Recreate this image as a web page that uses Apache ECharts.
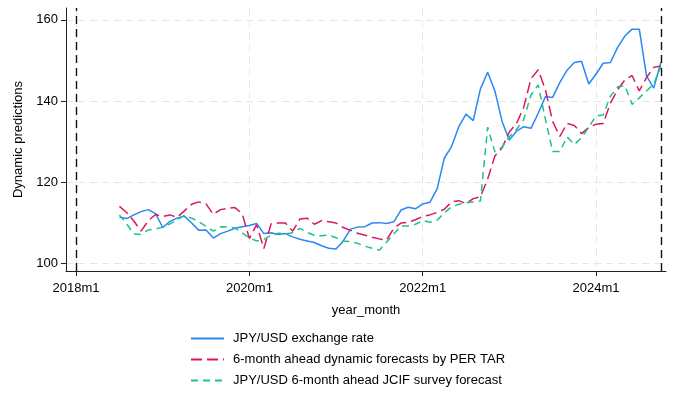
<!DOCTYPE html>
<html>
<head>
<meta charset="utf-8">
<script src="https://cdn.jsdelivr.net/npm/echarts@6/dist/echarts.min.js"></script>
<style>
html,body{margin:0;padding:0;background:#fff;}
#chart{width:680px;height:397px;}
</style>
</head>
<body>
<div id="chart"></div>
<script>
// month index: 0 = 2018m1
const startIndex = 6; // 2018m7
const jpyUsd = [111.4,111.1,112.0,112.8,113.3,112.3,108.9,110.4,111.2,111.7,110.0,108.2,108.3,106.3,107.4,108.0,108.7,109.1,109.4,109.9,
  107.4,107.6,107.2,107.4,106.6,106.0,105.6,105.2,104.4,103.8,103.6,105.6,108.5,109.0,109.1,110.0,110.1,109.9,110.3,113.2,
  113.9,113.5,114.7,115.1,118.4,126.0,128.8,133.7,136.8,135.2,143.0,147.1,142.5,135.0,130.4,132.6,133.7,133.3,137.0,141.1,
  140.9,144.6,147.6,149.5,149.8,144.2,146.6,149.3,149.5,153.2,156.0,157.7,157.7,146.2,143.2,149.6];
const perTar = [114.1,112.6,110.5,108.0,110.6,112.1,111.6,112.0,111.4,113.0,114.6,115.2,114.7,112.1,113.3,113.6,113.8,112.3,106.2,109.6,
  103.7,109.8,110.0,110.0,108.0,111.0,111.2,109.7,110.6,110.3,110.0,108.9,108.2,107.5,107.0,106.5,106.1,105.8,108.7,110.0,
  110.2,110.8,111.6,112.0,112.6,113.4,115.2,115.5,114.8,116.0,116.5,120.8,126.5,128.5,132.4,134.5,138.5,145.5,147.7,142.8,
  135.0,131.3,134.5,134.0,132.0,133.5,134.3,134.5,139.5,142.8,145.2,146.3,142.5,145.8,148.3,148.6];
const jcif = [112.0,109.8,107.3,107.2,108.3,108.5,109.0,109.8,110.8,111.9,111.2,110.3,109.2,108.0,109.1,109.0,108.8,107.6,106.3,105.6,
  106.0,107.0,107.5,107.3,107.6,108.7,107.7,107.0,106.9,107.0,106.4,105.6,105.4,105.0,104.3,103.8,103.3,105.3,107.3,109.3,
  109.3,109.7,110.6,110.2,110.7,112.5,114.0,114.6,115.0,115.2,115.4,133.6,127.5,128.7,131.2,133.0,135.5,141.5,144.0,135.5,
  127.6,127.6,131.2,129.3,131.0,133.6,136.3,136.6,141.2,143.5,143.8,139.2,140.8,142.5,144.2,148.5];
const xTickValues = [0, 24, 48, 72];     // 2018m1, 2020m1, 2022m1, 2024m1
const yTickValues = [100, 120, 140, 160];
const refLines = [0, 81];                // 2018m1, 2024m10
const seriesNames = ['JPY/USD exchange rate', '6-month ahead dynamic forecasts by PER TAR', 'JPY/USD 6-month ahead JCIF survey forecast'];

function toPairs(arr){ return arr.map((v,i)=>[startIndex+i, v]); }
function monthLabel(v){ const y = 2018 + Math.floor(v/12); const m = (v % 12) + 1; return y + 'm' + m; }

const font = "'Liberation Sans', Arial, sans-serif";
const gridStyle = {show:true, lineStyle:{color:'#e6e6e6', type:[7,5], width:1}};

const chart = echarts.init(document.getElementById('chart'), null, {renderer:'canvas'});
chart.setOption({
  animation:false,
  backgroundColor:'#fff',
  textStyle:{fontFamily:font},
  grid:{left:66, right:14, top:8, bottom:126, containLabel:false},
  xAxis:{
    type:'value', min:-1.4, max:81.7,
    name:'year_month', nameLocation:'middle', nameGap:33,
    nameTextStyle:{fontSize:13, color:'#000', fontFamily:font},
    axisLine:{show:true, onZero:false, lineStyle:{color:'#222', width:1}},
    axisTick:{show:true, length:5, customValues:xTickValues, lineStyle:{color:'#222'}},
    axisLabel:{customValues:xTickValues, formatter:monthLabel, fontSize:13, color:'#000', margin:11, fontFamily:font},
    splitLine:gridStyle
  },
  yAxis:{
    type:'value', min:98.2, max:162.9,
    name:'Dynamic predictions', nameLocation:'middle', nameGap:41, nameRotate:90,
    nameTextStyle:{fontSize:13, color:'#000', fontFamily:font},
    axisLine:{show:true, onZero:false, lineStyle:{color:'#222', width:1}},
    axisTick:{show:true, length:5, customValues:yTickValues, lineStyle:{color:'#222'}},
    axisLabel:{customValues:yTickValues, fontSize:13, color:'#000', margin:8, fontFamily:font},
    splitLine:gridStyle
  },
  legend:{
    orient:'vertical', left:190, top:332, padding:0, itemWidth:33, itemHeight:14, itemGap:8,
    itemStyle:{opacity:0, borderWidth:0},
    textStyle:{fontSize:13, color:'#000', fontFamily:font, padding:[0,0,0,4]},
    data:seriesNames
  },
  series:[
    {name:seriesNames[0], type:'line', data:toPairs(jpyUsd), symbol:'none', showSymbol:false,
     lineStyle:{color:'#2a87f5', width:1.5}, itemStyle:{color:'#2a87f5'}, z:3,
     markLine:{silent:true, symbol:['none','none'], label:{show:false},
       lineStyle:{color:'#111', type:[8,5], width:1.4},
       data:refLines.map(v=>({xAxis:v}))}},
    {name:seriesNames[1], type:'line', data:toPairs(perTar), symbol:'none', showSymbol:false,
     lineStyle:{color:'#d9195f', width:1.5, type:[11,5]}, itemStyle:{color:'#d9195f'}, z:4},
    {name:seriesNames[2], type:'line', data:toPairs(jcif), symbol:'none', showSymbol:false,
     lineStyle:{color:'#1fc387', width:1.5, type:[7,5]}, itemStyle:{color:'#1fc387'}, z:5}
  ]
});
</script>
</body>
</html>
